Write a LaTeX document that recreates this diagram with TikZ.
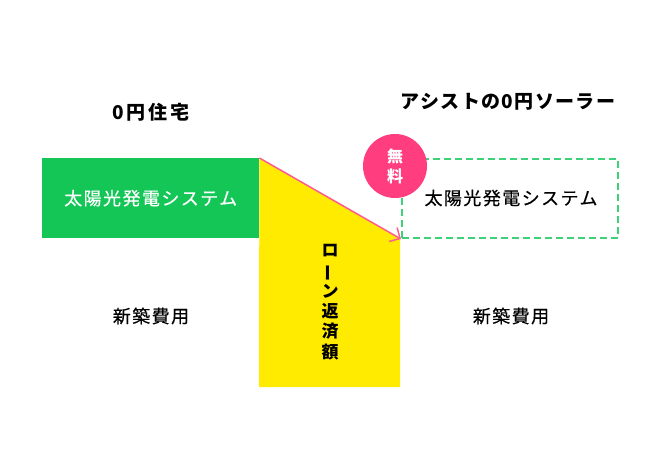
\documentclass[tikz,border=0pt]{standalone}
\usepackage{fontspec}
\usepackage{graphicx}
\newfontfamily\jp{Noto Sans CJK JP}[LetterSpace=8,FakeBold=0.4]
\newfontfamily\jpt{Noto Sans CJK JP}[LetterSpace=7]
\newfontfamily\jptl{Noto Sans CJK JP}[LetterSpace=14]
\newfontfamily\jpv{Noto Sans CJK JP}
\usetikzlibrary{arrows.meta}
\definecolor{sgreen}{HTML}{14C656}
\definecolor{dgreen}{HTML}{3DD27A}
\definecolor{syellow}{HTML}{FFEB00}
\definecolor{spink}{HTML}{FF3D7F}
\definecolor{apink}{HTML}{FF5C90}
\tikzset{
  txt/.style={inner sep=0pt, font=\jp\fontsize{18}{21}\selectfont},
  title/.style={inner sep=0pt, font=\jpt\bfseries\fontsize{19}{22}\selectfont},
}
\begin{document}
\begin{tikzpicture}[x=1pt,y=-1pt]
\useasboundingbox (0,0) rectangle (660,458);
% titles
\node[title, font=\jptl\bfseries\fontsize{19}{22}\selectfont] (t1) at (151,112) {0円住宅};
\node[title] (t2) at (508,102) {アシストの0円ソーラー};
% green box
\node[fill=sgreen, minimum width=217pt, minimum height=80pt, anchor=north west, inner sep=0pt] (g) at (42,158) {};
\node[txt, text=white] (gt) at (g.center) {太陽光発電システム};
% dashed box
\node[draw=dgreen, dash pattern=on 7pt off 4pt, line width=2pt, minimum width=216pt, minimum height=79pt, anchor=north west, inner sep=0pt] (d) at (401,158) {};
\node[txt] (dt) at (511,198) {太陽光発電システム};
% yellow area
\coordinate (y1) at (400,238);
\coordinate (y2) at (400,387);
\coordinate (y3) at (259,387);
\fill[syellow] (g.north east) -- (y1) -- (y2) -- (y3) -- cycle;
% arrow
\draw[apink, line width=1.5pt, -{Straight Barb[length=8pt,width=16pt]}] (g.north east) -- (d.south west);
% vertical text
\node[inner sep=0pt, align=center, font=\jpv\bfseries\fontsize{17}{20.4}\selectfont] (v) at (330,302) {ロ\\\rotatebox[origin=c]{90}{ー}\\ン\\返\\済\\額};
% bottom labels
\node[txt] (b1) at (151,316) {新築費用};
\node[txt] (b2) at (511,316) {新築費用};
% free badge
\node[circle, fill=spink, minimum size=64pt, inner sep=0pt] (c) at (395,166) {};
\node[inner sep=0pt, align=center, text=white, font=\jpv\bfseries\fontsize{16}{20}\selectfont] (ct) at (c.center) {無\\料};
\end{tikzpicture}
\end{document}
